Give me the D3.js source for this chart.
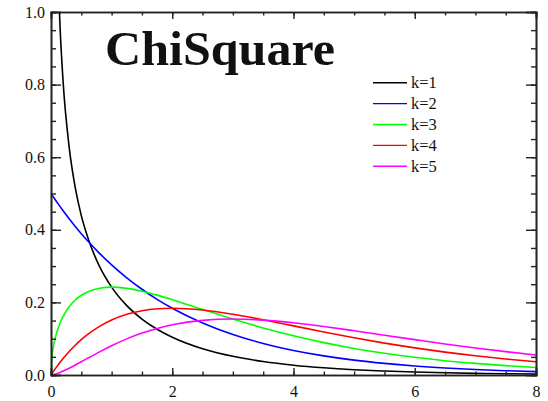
<!DOCTYPE html>
<html>
<head>
<meta charset="utf-8">
<script src="https://cdn.jsdelivr.net/npm/d3@7"></script>
<style>
  body { margin: 0; background: #fff; overflow: hidden; }
  svg { display: block; }
  text { font-family: "Liberation Serif", "DejaVu Serif", serif; fill: #111; }
</style>
</head>
<body>
<svg id="chart" width="548" height="401"></svg>
<script>
// x positions the curves were read at
var xs = [0, 0.02, 0.05, 0.1, 0.12, 0.15, 0.2, 0.3, 0.4, 0.5, 0.6, 0.8, 1, 1.25, 1.5, 1.75, 2,
          2.5, 3, 3.5, 4, 4.5, 5, 5.5, 6, 6.5, 7, 7.5, 8];

// densities (k=1 has no value at 0, it runs off the top)
var k1 = [null, 2.793, 1.740, 1.200, 1.085, 0.956, 0.807, 0.627, 0.516, 0.439, 0.382, 0.299, 0.242,
          0.191, 0.154, 0.126, 0.104, 0.0723, 0.0514, 0.0371, 0.0270, 0.0198, 0.0146, 0.0109,
          0.0081, 0.0061, 0.0046, 0.0034, 0.0026];
var k2 = [0.5, 0.4950, 0.4877, 0.4756, 0.4709, 0.4639, 0.4524, 0.4304, 0.4094, 0.3894, 0.3704, 0.3352,
          0.3033, 0.2676, 0.2362, 0.2084, 0.1839, 0.1433, 0.1116, 0.0869, 0.0677, 0.0527, 0.0410,
          0.0320, 0.0249, 0.0194, 0.0151, 0.0118, 0.0092];
var k3 = [0, 0.0559, 0.0870, 0.1200, 0.1302, 0.1433, 0.1614, 0.1881, 0.2066, 0.2197, 0.2289, 0.2392,
          0.2420, 0.2387, 0.2308, 0.2200, 0.2076, 0.1807, 0.1542, 0.1297, 0.1080, 0.0892, 0.0732,
          0.0598, 0.0487, 0.0394, 0.0319, 0.0257, 0.0207];
var k4 = [0, 0.0050, 0.0122, 0.0238, 0.0283, 0.0348, 0.0452, 0.0646, 0.0819, 0.0974, 0.1111, 0.1341,
          0.1516, 0.1673, 0.1771, 0.1824, 0.1839, 0.1791, 0.1673, 0.1521, 0.1353, 0.1186, 0.1026,
          0.0879, 0.0747, 0.0630, 0.0529, 0.0441, 0.0366];
var k5 = [0, 0.0004, 0.0015, 0.0040, 0.0052, 0.0072, 0.0108, 0.0188, 0.0276, 0.0366, 0.0458, 0.0638,
          0.0807, 0.0995, 0.1154, 0.1283, 0.1384, 0.1506, 0.1542, 0.1513, 0.1440, 0.1338, 0.1220,
          0.1096, 0.0974, 0.0854, 0.0744, 0.0643, 0.0552];

var seriesNames = ["k=1", "k=2", "k=3", "k=4", "k=5"];
var seriesColors = ["#000000", "#0000ff", "#00ff00", "#ff0000", "#ff00ff"];
var xTicks = [0, 2, 4, 6, 8];
var yTicks = [0, 0.2, 0.4, 0.6, 0.8, 1.0];

// plot box (not "top": that name is taken by window.top)
var boxL = 51, boxR = 536, boxT = 12, boxB = 375;
var svg = d3.select("#chart");

var x = d3.scaleLinear().domain([0, 8]).range([boxL, boxR]);
var y = d3.scaleLinear().domain([0, 1]).range([boxB, boxT]);

// clip curves to the plot box
svg.append("clipPath").attr("id", "box")
  .append("rect").attr("x", boxL).attr("y", boxT).attr("width", boxR - boxL).attr("height", boxB - boxT);

var line = d3.line()
  .defined(function(d){ return d[1] != null; })
  .x(function(d){ return x(d[0]); })
  .y(function(d){ return y(d[1]); })
  .curve(d3.curveMonotoneX);

[k1, k2, k3, k4, k5].forEach(function(vals, i){
  var pts = xs.map(function(xv, j){ return [xv, vals[j]]; });
  svg.append("path").datum(pts)
    .attr("clip-path", "url(#box)")
    .attr("d", line)
    .attr("fill", "none")
    .attr("stroke", seriesColors[i])
    .attr("stroke-width", 1.6);
});

//  Axis  //
// ticks point inward; x ticks 7px, y ticks 10px, minors half
var minorX = d3.range(0, 8.01, 0.5), minorY = d3.range(0, 1.001, 0.05);
svg.append("g").attr("transform", "translate(0," + boxB + ")")
  .call(d3.axisBottom(x).tickValues(minorX).tickSize(-3.5).tickFormat(""));
svg.append("g").attr("transform", "translate(0," + boxT + ")")
  .call(d3.axisTop(x).tickValues(minorX).tickSize(-3.5).tickFormat(""));
svg.append("g").attr("transform", "translate(" + boxL + ",0)")
  .call(d3.axisLeft(y).tickValues(minorY).tickSize(-5).tickFormat(""));
svg.append("g").attr("transform", "translate(" + boxR + ",0)")
  .call(d3.axisRight(y).tickValues(minorY).tickSize(-5).tickFormat(""));

var xLab = svg.append("g").attr("transform", "translate(0," + boxB + ")")
  .call(d3.axisBottom(x).tickValues(xTicks).tickSize(-7).tickPadding(11).tickFormat(d3.format("d")));
svg.append("g").attr("transform", "translate(0," + boxT + ")")
  .call(d3.axisTop(x).tickValues(xTicks).tickSize(-7).tickFormat(""));
var yLab = svg.append("g").attr("transform", "translate(" + boxL + ",0)")
  .call(d3.axisLeft(y).tickValues(yTicks).tickSize(-10).tickPadding(6).tickFormat(d3.format(".1f")));
svg.append("g").attr("transform", "translate(" + boxR + ",0)")
  .call(d3.axisRight(y).tickValues(yTicks).tickSize(-10).tickFormat(""));

svg.selectAll(".domain").attr("stroke", "#222").attr("stroke-width", 1.6);
svg.selectAll(".tick line").attr("stroke", "#222").attr("stroke-width", 1.4);
svg.selectAll(".tick text").attr("font-family", "Liberation Serif").attr("font-size", 16).attr("fill", "#111");

// title
svg.append("text")
  .attr("x", 105).attr("y", 65)
  .attr("font-size", 48).attr("font-weight", "bold")
  .attr("textLength", 230).attr("lengthAdjust", "spacingAndGlyphs")
  .text("ChiSquare");

// legend
var leg = svg.append("g");
seriesNames.forEach(function(name, i){
  var ly = 82.7 + i * 20.9;
  leg.append("line").attr("x1", 373).attr("x2", 407).attr("y1", ly).attr("y2", ly)
    .attr("stroke", seriesColors[i]).attr("stroke-width", 1.4);
  leg.append("text").attr("x", 411).attr("y", ly).attr("dy", "0.35em")
    .attr("font-size", 16.5).text(name);
});
</script>
</body>
</html>
